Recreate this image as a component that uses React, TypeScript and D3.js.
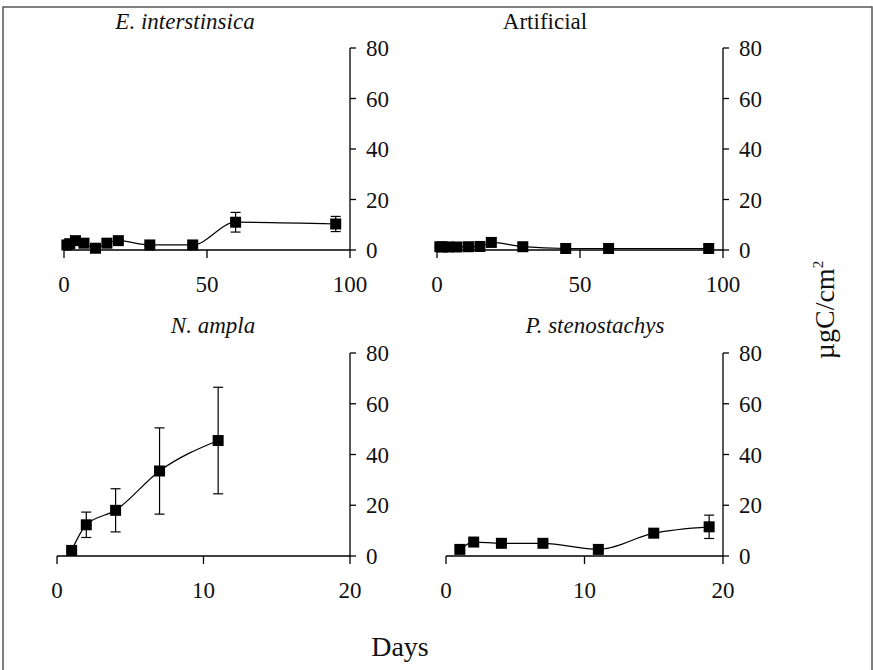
import React from "react";
import * as d3 from "d3";

const daysLong = [1, 2, 4, 7, 11, 15, 19, 30, 45, 60, 95];
const eInterMean = [2.0, 2.5, 3.7, 2.7, 0.7, 2.7, 3.7, 2.0, 2.0, 11.0, 10.3];
const eInterErr = [0.5, 0.5, 0.8, 0.5, 0.5, 0.6, 0.6, 0.5, 0.5, 3.9, 3.0];
const artificialMean = [1.3, 1.2, 1.2, 1.2, 1.3, 1.4, 3.0, 1.3, 0.6, 0.6, 0.6];
const artificialErr = [0.3, 0.3, 0.3, 0.3, 0.3, 0.3, 0.5, 0.3, 0.2, 0.2, 0.2];
const daysAmpla = [1, 2, 4, 7, 11];
const nAmplaMean = [2.2, 12.3, 18.0, 33.5, 45.5];
const nAmplaErr = [0.5, 5.0, 8.5, 17.0, 21.0];
const daysSteno = [1, 2, 4, 7, 11, 15, 19];
const pStenoMean = [2.6, 5.5, 5.0, 5.0, 2.6, 9.0, 11.5];
const pStenoErr = [0.5, 0.8, 0.6, 0.6, 0.5, 1.5, 4.6];
const yTicks = [0, 20, 40, 60, 80];
const xTicksLong = [0, 50, 100];
const xTicksShort = [0, 10, 20];

const FONT = "'Liberation Serif', 'Times New Roman', serif";

type PanelProps = {
  title: string;
  italic: boolean;
  days: number[];
  mean: number[];
  err: number[];
  xDomain: [number, number];
  xTicks: number[];
  xRange: [number, number];
  yRange: [number, number];
  titleX: number;
  titleY: number;
};

function Panel(p: PanelProps) {
  const x = d3.scaleLinear().domain(p.xDomain).range(p.xRange);
  const y = d3.scaleLinear().domain([0, 80]).range(p.yRange);
  const pts = p.days.map((d, i) => [d, p.mean[i]] as [number, number]);
  const line = d3
    .line<[number, number]>()
    .x((d) => x(d[0]))
    .y((d) => y(d[1]))
    .curve(d3.curveMonotoneX);
  const axisX = p.xRange[1];
  const y0 = y(0);
  const ms = 11;
  const cap = 5;
  return (
    <g>
      <line x1={p.xRange[0]} x2={p.xRange[1]} y1={y0} y2={y0} stroke="#000" strokeWidth={1.3} />
      {p.xTicks.map((t) => (
        <g key={"xt" + t}>
          <line x1={x(t)} x2={x(t)} y1={y0} y2={y0 + 8} stroke="#000" strokeWidth={1.3} />
          <text x={x(t)} y={y0 + 42} textAnchor="middle" fontFamily={FONT} fontSize={23} fill="#111">
            {t}
          </text>
        </g>
      ))}
      <line x1={axisX} x2={axisX} y1={y(80)} y2={y0} stroke="#000" strokeWidth={1.3} />
      {yTicks.map((t) => (
        <g key={"yt" + t}>
          <line x1={axisX} x2={axisX + 6} y1={y(t)} y2={y(t)} stroke="#000" strokeWidth={1.3} />
          <text x={axisX + 16} y={y(t)} dy="0.35em" fontFamily={FONT} fontSize={23} fill="#111">
            {t}
          </text>
        </g>
      ))}
      <path d={line(pts) || ""} fill="none" stroke="#000" strokeWidth={1.2} />
      {pts.map((d, i) => (
        <g key={"e" + i}>
          <line x1={x(d[0])} x2={x(d[0])} y1={y(d[1] + p.err[i])} y2={y(d[1] - p.err[i])} stroke="#000" strokeWidth={1.2} />
          <line x1={x(d[0]) - cap} x2={x(d[0]) + cap} y1={y(d[1] + p.err[i])} y2={y(d[1] + p.err[i])} stroke="#000" strokeWidth={1.2} />
          <line x1={x(d[0]) - cap} x2={x(d[0]) + cap} y1={y(d[1] - p.err[i])} y2={y(d[1] - p.err[i])} stroke="#000" strokeWidth={1.2} />
        </g>
      ))}
      {pts.map((d, i) => (
        <rect key={"m" + i} x={x(d[0]) - ms / 2} y={y(d[1]) - ms / 2} width={ms} height={ms} fill="#000" />
      ))}
      <text
        x={p.titleX}
        y={p.titleY}
        textAnchor="middle"
        fontFamily={FONT}
        fontSize={23}
        fontStyle={p.italic ? "italic" : "normal"}
        fill="#111"
      >
        {p.title}
      </text>
    </g>
  );
}

export default function App() {
  return (
    <svg width={873} height={670} style={{ position: "absolute", left: 0, top: 0, background: "#fff" }}>
      <rect x={0} y={0} width={873} height={670} fill="#fff" />
      <polyline points="3,670 3,7 872,7 872,670" fill="none" stroke="#555" strokeWidth={1.5} />
      <Panel
        title="E. interstinsica"
        italic={true}
        days={daysLong}
        mean={eInterMean}
        err={eInterErr}
        xDomain={[0, 100]}
        xTicks={xTicksLong}
        xRange={[64, 350]}
        yRange={[250, 48]}
        titleX={185}
        titleY={29}
      />
      <Panel
        title="Artificial"
        italic={false}
        days={daysLong}
        mean={artificialMean}
        err={artificialErr}
        xDomain={[0, 100]}
        xTicks={xTicksLong}
        xRange={[437, 723]}
        yRange={[250, 48]}
        titleX={545}
        titleY={29}
      />
      <Panel
        title="N. ampla"
        italic={true}
        days={daysAmpla}
        mean={nAmplaMean}
        err={nAmplaErr}
        xDomain={[0, 20]}
        xTicks={xTicksShort}
        xRange={[57, 350]}
        yRange={[556, 353]}
        titleX={213}
        titleY={333}
      />
      <Panel
        title="P. stenostachys"
        italic={true}
        days={daysSteno}
        mean={pStenoMean}
        err={pStenoErr}
        xDomain={[0, 20]}
        xTicks={xTicksShort}
        xRange={[446, 723]}
        yRange={[556, 353]}
        titleX={595}
        titleY={333}
      />
      <text x={400} y={656} textAnchor="middle" fontFamily={FONT} fontSize={28} fill="#111">
        Days
      </text>
      <text
        transform="translate(834,310) rotate(-90)"
        textAnchor="middle"
        fontFamily={FONT}
        fontSize={28}
        fill="#111"
      >
        µgC/cm
        <tspan dy="-11" fontSize={15}>2</tspan>
      </text>
    </svg>
  );
}
